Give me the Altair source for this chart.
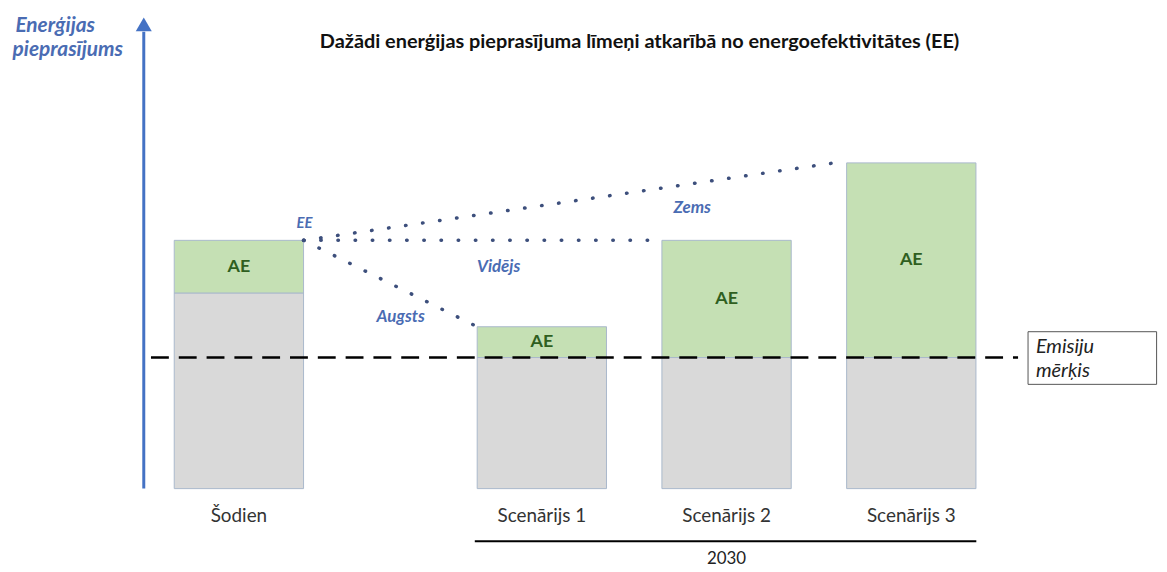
import altair as alt
import pandas as pd

# ---- data -------------------------------------------------------------
categories = ["Šodien", "Scenārijs 1", "Scenārijs 2", "Scenārijs 3"]
slot = [0.0, 1.64, 2.64, 3.64]            # horizontal position of each bar
base_demand = [19.7, 13.2, 13.2, 13.2]     # grey part (top)
total_demand = [25.0, 16.3, 25.0, 32.8]    # bar total (top of green AE part)
emission_target = 13.2

ee_labels = ["Augsts", "Vidējs", "Zems"]
ee_end_x = [1.29, 2.255, 3.223]
ee_end_y = [16.3, 25.0, 32.8]
ee_label_x = [0.876, 1.406, 2.454]
ee_label_y = [17.3, 22.3, 28.3]

title_text = "Dažādi enerģijas pieprasījuma līmeņi atkarībā no energoefektivitātes (EE)"
y_title_lines = ["Enerģijas", "pieprasījums"]
target_lines = ["Emisiju", "mērķis"]
period_label = "2030"

HALF = 0.35
XDOM = [-1.25, 4.981]
YDOM = [-8.2, 48.2]
FONT = "Lato"
BLUE_TXT = "#4a6cb3"

def X(f="x"):
    return alt.X(f"{f}:Q", scale=alt.Scale(domain=XDOM, zero=False, nice=False), axis=None)

def Y(f="y"):
    return alt.Y(f"{f}:Q", scale=alt.Scale(domain=YDOM, zero=False, nice=False), axis=None)

bars = pd.DataFrame({"cat": categories, "x": slot, "base": base_demand, "total": total_demand})
bars["x0"] = bars["x"] - HALF
bars["x1"] = bars["x"] + HALF
bars["zero"] = 0.0
bars["ae_mid"] = (bars["base"] + bars["total"]) / 2

grey = alt.Chart(bars).mark_rect(fill="#d9d9d9", stroke="#a9b8cc", strokeWidth=1).encode(
    x=X("x0"), x2="x1", y=Y("zero"), y2="base")
green = alt.Chart(bars).mark_rect(fill="#c5e0b4", stroke="#a9b8cc", strokeWidth=1).encode(
    x=X("x0"), x2="x1", y=Y("base"), y2="total")
ae_text = alt.Chart(bars).mark_text(text="AE", font=FONT, fontSize=18, fontWeight="bold",
                                    color="#2f5f1f", baseline="middle").encode(
    x=X("x"), y=Y("ae_mid"))
bars["lab_y"] = -2.8
cat_text = alt.Chart(bars).mark_text(font=FONT, fontSize=19, color="#333333", baseline="middle").encode(
    x=X("x"), y=Y("lab_y"), text="cat:N")

# dashed emission target line
target_df = pd.DataFrame({"x": [-0.476], "x2": [4.218], "y": [emission_target]})
target_line = alt.Chart(target_df).mark_rule(color="black", strokeWidth=2.5, strokeDash=[18, 10]).encode(
    x=X("x"), x2="x2", y=Y("y"))

# target box
box_df = pd.DataFrame({"x": [4.272], "x2": [4.968], "y": [10.5], "y2": [15.8]})
box = alt.Chart(box_df).mark_rect(fill="white", stroke="#555555", strokeWidth=1).encode(
    x=X("x"), x2="x2", y=Y("y"), y2="y2")
tl_df = pd.DataFrame({"t": target_lines, "x": [4.315, 4.315], "y": [14.3, 11.8]})
box_text = alt.Chart(tl_df).mark_text(font=FONT, fontSize=20, fontStyle="italic", color="#222222",
                                      align="left", baseline="middle").encode(
    x=X("x"), y=Y("y"), text="t:N")

# dotted EE lines
rows = []
for lab, ex, ey in zip(ee_labels, ee_end_x, ee_end_y):
    rows.append({"g": lab, "o": 0, "x": slot[0] + HALF, "y": total_demand[0]})
    rows.append({"g": lab, "o": 1, "x": ex, "y": ey})
dots_df = pd.DataFrame(rows)
dots = alt.Chart(dots_df).mark_line(color="#3d4f7c", strokeWidth=3.5, strokeDash=[0.5, 16.8],
                                    strokeCap="round").encode(
    x=X("x"), y=Y("y"), detail="g:N", order="o:Q")

ee_lab_df = pd.DataFrame({"t": ee_labels + ["EE"], "x": ee_label_x + [0.355], "y": ee_label_y + [26.7],
                          "s": [17, 17, 17, 15]})
ee_text = alt.Chart(ee_lab_df).mark_text(font=FONT, fontStyle="italic", fontWeight="bold",
                                         color=BLUE_TXT, baseline="middle").encode(
    x=X("x"), y=Y("y"), text="t:N", size=alt.Size("s:Q", scale=None, legend=None))

# vertical axis arrow
axis_df = pd.DataFrame({"x": [-0.515], "y": [0.0], "y2": [46.0]})
axis_line = alt.Chart(axis_df).mark_rule(color="#4472c4", strokeWidth=3).encode(
    x=X("x"), y=Y("y"), y2="y2")
head_df = pd.DataFrame({"x": [-0.515], "y": [46.75]})
axis_head = alt.Chart(head_df).mark_point(shape="triangle-up", filled=True, size=260, color="#4472c4",
                                          opacity=1).encode(x=X("x"), y=Y("y"))

yt_df = pd.DataFrame({"t": y_title_lines, "x": [-1.21, -1.225], "y": [46.6, 44.2]})
y_title = alt.Chart(yt_df).mark_text(font=FONT, fontSize=21, fontStyle="italic", fontWeight="bold",
                                     color=BLUE_TXT, align="left", baseline="middle").encode(
    x=X("x"), y=Y("y"), text="t:N")

title_df = pd.DataFrame({"t": [title_text], "x": [2.169], "y": [45.0]})
title = alt.Chart(title_df).mark_text(font=FONT, fontSize=20, fontWeight="bold", color="#111111",
                                      baseline="middle").encode(x=X("x"), y=Y("y"), text="t:N")

# 2030 bracket
per_df = pd.DataFrame({"x": [1.277], "x2": [3.992], "y": [-5.3]})
per_line = alt.Chart(per_df).mark_rule(color="black", strokeWidth=2).encode(x=X("x"), x2="x2", y=Y("y"))
per_t_df = pd.DataFrame({"t": [period_label], "x": [2.64], "y": [-7.1]})
per_text = alt.Chart(per_t_df).mark_text(font=FONT, fontSize=17, color="#222222", baseline="middle").encode(
    x=X("x"), y=Y("y"), text="t:N")

chart = alt.layer(
    grey, green, ae_text, cat_text, target_line, box, box_text, dots, ee_text,
    axis_line, axis_head, y_title, title, per_line, per_text
).properties(
    width=1159, height=564, autosize=alt.AutoSizeParams(type="none"), padding=0
).configure_view(stroke=None)

chart.save("out.html", embed_options={"renderer": "svg", "actions": False})
